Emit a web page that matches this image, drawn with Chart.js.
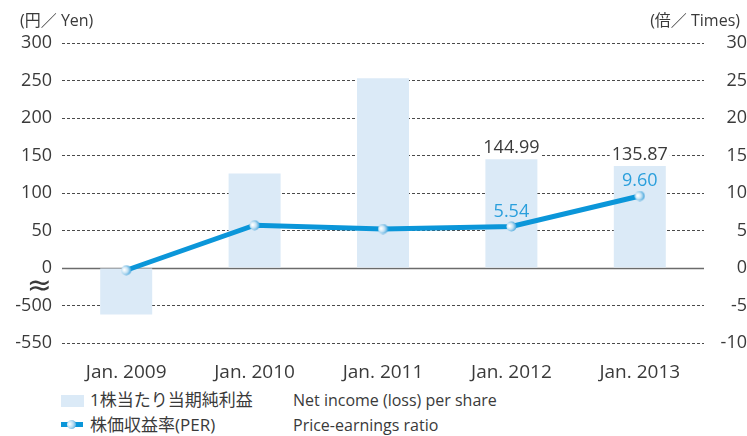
<!DOCTYPE html>
<html>
<head>
<meta charset="utf-8">
<script src="https://cdn.jsdelivr.net/npm/chart.js@4"></script>
<style>
  body { margin: 0; background: #fff; }
  #wrap { position: relative; width: 747px; height: 436px; font-family: "Open Sans", "Noto Sans CJK JP", sans-serif; color: #3a3a3a; }
  #chart { position: absolute; left: 0; top: 0; }
  .unit { position: absolute; top: 8px; font-size: 16px; line-height: 24px; }
  .lg { position: absolute; font-size: 16px; line-height: 22px; white-space: nowrap; }
  .jp { font-size: 17px; }
  .sw { position: absolute; }
</style>
</head>
<body>
<div id="wrap">
  <canvas id="chart" width="747" height="385"></canvas>
  <div class="unit" style="left:20px">(円／ Yen)</div>
  <div class="unit" style="right:7px">(倍／ Times)</div>

  <div class="sw" style="left:61px;top:395px;width:23px;height:12px;background:#dbeaf7"></div>
  <div class="lg jp" style="left:90px;top:389px">1株当たり当期純利益</div>
  <div class="lg" style="left:293px;top:389px">Net income (loss) per share</div>

  <div class="sw" style="left:61px;top:422px;width:22px;height:5px;background:#0b96d9"></div>
  <div class="sw" style="left:67px;top:420px;width:9px;height:9px;border-radius:50%;background:radial-gradient(circle at 30% 45%, #ffffff 0%, #b9dcf2 45%, #2b98d6 100%)"></div>
  <div class="lg jp" style="left:90px;top:414px">株価収益率(PER)</div>
  <div class="lg" style="left:293px;top:414px">Price-earnings ratio</div>
</div>

<script>
const years = ['Jan. 2009', 'Jan. 2010', 'Jan. 2011', 'Jan. 2012', 'Jan. 2013'];
const netIncome = [-512, 126, 253, 144.99, 135.87];
const per = [-0.3, 5.7, 5.2, 5.54, 9.60];
const netIncomeLabels = ['', '', '', '144.99', '135.87'];
const perLabels = ['', '', '', '5.54', '9.60'];

// left axis is broken between 0 and -500
const leftTickValues = [-100, -50, -25, 0, 50, 100, 150, 200, 250, 300];
const leftTickLabels = ['-550', '-500', '≈', '0', '50', '100', '150', '200', '250', '300'];

const BAR = '#dbeaf7';
const LINE = '#0b96d9';
const TEXT = '#3a3a3a';
const FONT = '"Open Sans", "Noto Sans CJK JP", sans-serif';

function toAxis(v) {
    return v < -450 ? v + 450 : v;
}

// marker: small ball, light on the left
const marker = document.createElement('canvas');
marker.width = 11;
marker.height = 11;
(function() {
    const c = marker.getContext('2d');
    const g = c.createRadialGradient(3.5, 5, 0.5, 4.5, 5.5, 6.5);
    g.addColorStop(0, '#ffffff');
    g.addColorStop(0.45, '#c4e2f4');
    g.addColorStop(1, '#2b98d6');
    c.fillStyle = g;
    c.beginPath();
    c.arc(5.5, 5.5, 5, 0, Math.PI * 2);
    c.fill();
})();

const extras = {
    id: 'extras',
    beforeDatasetsDraw(chart) {
        const {ctx, chartArea} = chart;
        const y0 = Math.round(chart.scales.y.getPixelForValue(0)) + 0.5;
        ctx.save();
        ctx.strokeStyle = '#6b6b6b';
        ctx.lineWidth = 1.5;
        ctx.beginPath();
        ctx.moveTo(chartArea.left, y0);
        ctx.lineTo(chartArea.right, y0);
        ctx.stroke();
        ctx.restore();
    },
    afterDatasetsDraw(chart) {
        const ctx = chart.ctx;
        ctx.save();
        ctx.font = '18px ' + FONT;
        ctx.textAlign = 'center';
        ctx.textBaseline = 'middle';
        chart.getDatasetMeta(0).data.forEach((el, i) => {
            const t = netIncomeLabels[i];
            if (!t) return;
            const w = ctx.measureText(t).width;
            const y = el.y - 11;
            ctx.fillStyle = '#fff';
            ctx.fillRect(el.x - w / 2 - 2, y - 9, w + 4, 18);
            ctx.fillStyle = TEXT;
            ctx.fillText(t, el.x, y);
        });
        chart.getDatasetMeta(1).data.forEach((el, i) => {
            const t = perLabels[i];
            if (!t) return;
            ctx.fillStyle = '#2a9fdc';
            ctx.fillText(t, el.x, el.y - 15);
        });
        ctx.restore();
    }
};

new Chart(document.getElementById('chart'), {
    type: 'bar',
    data: {
        labels: years,
        datasets: [
            {
                label: '1株当たり当期純利益',
                data: netIncome.map(toAxis),
                backgroundColor: BAR,
                barPercentage: 0.405,
                categoryPercentage: 1,
                yAxisID: 'y',
                order: 2
            },
            {
                type: 'line',
                label: '株価収益率(PER)',
                data: per,
                borderColor: LINE,
                borderWidth: 5,
                tension: 0,
                pointStyle: marker,
                yAxisID: 'y1',
                order: 1
            }
        ]
    },
    plugins: [extras],
    options: {
        responsive: false,
        animation: false,
        layout: { padding: { top: 43, left: 0, right: 0, bottom: 0 } },
        plugins: {
            legend: { display: false },
            tooltip: { enabled: false }
        },
        scales: {
            x: {
                grid: { display: false },
                border: { display: false },
                ticks: { color: TEXT, font: { family: FONT, size: 19 }, padding: 10 },
                afterFit: s => { s.height = 42; }
            },
            y: {
                position: 'left',
                min: -100,
                max: 300,
                afterBuildTicks: s => { s.ticks = leftTickValues.map(v => ({ value: v })); },
                afterFit: s => { s.width = 62; },
                ticks: {
                    autoSkip: false,
                    color: TEXT,
                    padding: 10,
                    font: c => (c.tick && c.tick.value === -25)
                        ? { family: '"DejaVu Sans"', size: 30 }
                        : { family: FONT, size: 18 },
                    callback: v => leftTickLabels[leftTickValues.indexOf(v)]
                },
                grid: {
                    drawTicks: false,
                    color: c => (c.tick && (c.tick.value === -25 || c.tick.value === 0)) ? 'rgba(0,0,0,0)' : '#4a4a4a'
                },
                border: { display: false, dash: [3, 2] }
            },
            y1: {
                position: 'right',
                min: -10,
                max: 30,
                ticks: {
                    stepSize: 5,
                    color: TEXT,
                    padding: 13,
                    crossAlign: 'far',
                    font: { family: FONT, size: 18 }
                },
                afterFit: s => { s.width = 43; },
                grid: { drawOnChartArea: false, drawTicks: false },
                border: { display: false }
            }
        }
    }
});
</script>
</body>
</html>
